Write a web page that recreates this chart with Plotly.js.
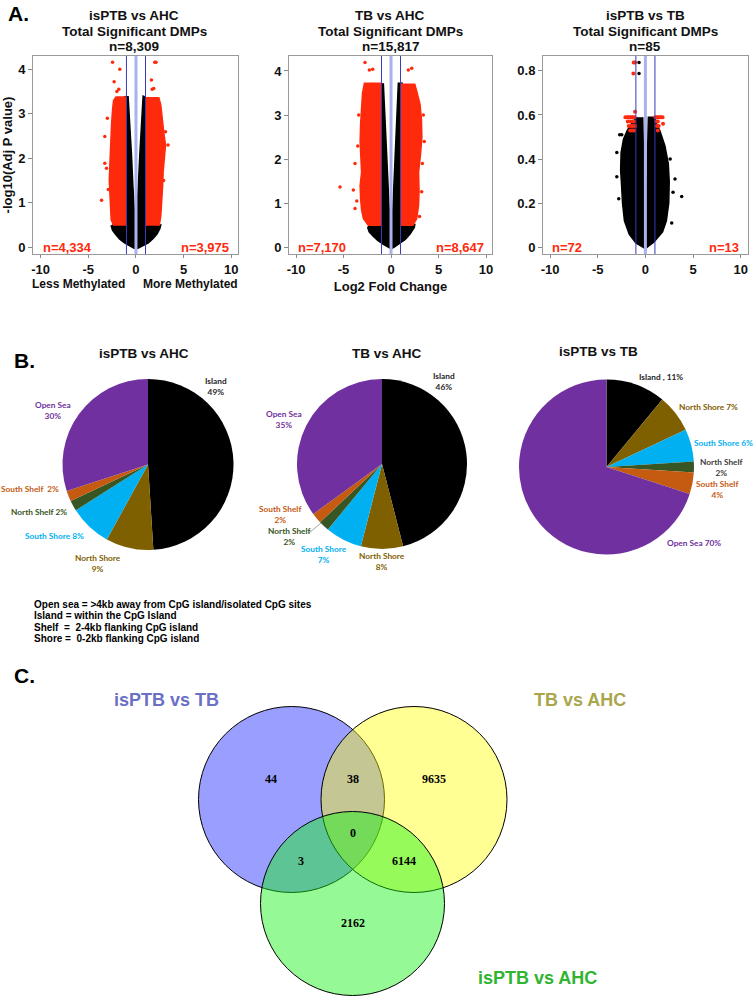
<!DOCTYPE html>
<html><head><meta charset="utf-8">
<script src="https://cdn.plot.ly/plotly-3.0.1.min.js"></script>
<style>html,body{margin:0;padding:0;background:#fff}#chart{width:755px;height:997px}</style>
</head><body><div id="chart"></div><script>
// ---------------- DATA ----------------
// Panel A: volcano plots (envelopes of the dense point clouds + isolated points)
const volcanoTitles = ['isPTB vs AHC', 'TB vs AHC', 'isPTB vs TB'];
const volcanoTotals = ['n=8,309', 'n=15,817', 'n=85'];
const lessCounts = ['n=4,334', 'n=7,170', 'n=72'];
const moreCounts = ['n=3,975', 'n=8,647', 'n=13'];
const xTickVals = [-10, -5, 0, 5, 10];
const xTickText = ['-10', '-5', '0', '5', '10'];
const yTicksLarge = [0, 1, 2, 3, 4];
const yTicksSmall = [0, 0.2, 0.4, 0.6, 0.8];
const fcCutoffs = [-1, 1];
const fcCenter = 0;

const v1BlackX = [-1.2,-1.0,-1.0,-2.3,-2.6,-2.45,-2.1,-1.7,-1.2,-0.7,-0.2,0.2,0.7,1.3,1.8,2.2,2.5,2.6,1.0,1.0,0.95,0.75,0.6,0.4,0.25,0.16,0.08,0.02,-0.03,-0.1,-0.23,-0.33,-0.47,-0.65,-0.83];
const v1BlackY = [3.40,3.30,0.50,0.52,0.48,0.38,0.28,0.18,0.10,0.03,-0.02,-0.02,0.03,0.10,0.20,0.30,0.42,0.50,0.50,3.30,3.38,3.40,2.90,2.07,1.40,0.95,0.55,0.30,0.30,0.55,0.95,1.40,2.07,2.90,3.40];
const v1RedLX = [-1.0,-2.35,-2.6,-2.65,-2.75,-2.8,-2.75,-2.7,-2.65,-2.55,-2.45,-2.35,-2.1,-1.0];
const v1RedLY = [0.50,0.50,0.62,0.90,1.20,1.50,1.80,2.10,2.50,2.80,3.10,3.30,3.38,3.38];
const v1RedRX = [1.0,2.45,2.6,2.7,2.8,2.85,3.0,3.1,2.9,2.75,2.6,2.4,1.0];
const v1RedRY = [0.50,0.50,0.70,1.00,1.40,1.70,2.00,2.30,2.60,2.90,3.20,3.36,3.36];
const v1RedOutX = [-3.61,-3.27,-3.09,-3.27,-2.46,-1.70,-2.29,-2.00,-1.80,-3.00,-2.90,1.97,2.10,1.62,3.36,2.31,1.86,1.70,3.10,2.90,2.50];
const v1RedOutY = [1.06,1.89,1.78,2.49,4.16,4.00,3.72,3.50,3.55,2.90,1.30,4.16,4.16,3.76,2.30,1.02,3.57,3.55,2.60,1.50,0.85];

const v2BlackX = [-1.25,-1.0,-1.0,-2.2,-2.45,-2.3,-1.9,-1.4,-0.8,-0.3,0.0,0.3,0.9,1.5,2.0,2.45,2.5,1.0,1.0,1.15,0.77,0.6,0.45,0.35,0.18,0.05,-0.05,-0.18,-0.39,-0.5,-0.63,-0.81];
const v2BlackY = [3.72,3.65,0.50,0.52,0.45,0.35,0.26,0.16,0.07,0.0,-0.03,0.0,0.08,0.18,0.30,0.45,0.52,0.50,3.65,3.72,3.72,2.85,2.10,1.71,0.81,0.50,0.50,0.81,1.71,2.10,2.85,3.72];
const v2RedLX = [-1.0,-2.4,-2.9,-3.1,-3.2,-3.25,-3.1,-3.15,-3.25,-3.2,-3.05,-3.0,-2.8,-1.0];
const v2RedLY = [0.50,0.50,0.65,0.85,1.10,1.40,1.70,2.00,2.40,2.80,3.20,3.50,3.72,3.72];
const v2RedRX = [1.0,2.3,2.7,2.9,2.95,2.9,3.1,3.25,3.2,3.05,2.7,2.5,1.0];
const v2RedRY = [0.50,0.50,0.65,0.95,1.30,1.70,2.10,2.50,2.90,3.25,3.55,3.70,3.70];
const v2RedOutX = [-5.37,-3.79,-3.97,-2.74,-2.28,-1.93,-3.79,-3.60,-3.50,-3.40,2.18,1.82,3.23,3.40,3.50,3.30,3.00];
const v2RedOutY = [1.37,1.90,1.30,4.19,4.02,4.04,0.88,1.05,2.30,3.00,4.06,4.02,1.26,3.00,2.40,1.90,0.70];

const v3BlackX = [-0.9,-1.3,-1.9,-2.3,-2.55,-2.6,-2.5,-2.4,-2.2,-1.7,-1.0,0.0,0.9,1.8,2.2,2.45,2.5,2.4,2.05,1.5,1.05,1.0,0.31,0.24,0.14,0.04,-0.04,-0.11,-0.21,-0.28];
const v3BlackY = [0.59,0.57,0.53,0.49,0.43,0.35,0.28,0.20,0.12,0.06,0.02,-0.005,0.025,0.07,0.12,0.20,0.30,0.38,0.46,0.53,0.57,0.59,0.59,0.42,0.19,0.07,0.07,0.19,0.42,0.59];
const v3BlackOutX = [3.81,3.11,2.76,2.90,2.60,-3.00,-2.48,-3.00,-2.70,-2.80,-0.67,-0.67];
const v3BlackOutY = [0.23,0.31,0.11,0.25,0.40,0.43,0.51,0.32,0.51,0.22,0.838,0.788];
const v3RedX = [-1.09,-1.23,-1.26,-1.09,-2.10,-1.90,-1.75,-1.60,-1.45,-1.30,-1.15,-1.85,-1.60,-1.35,-1.20,-1.75,-1.50,-1.30,-1.10,-1.60,-1.40,-1.20,1.05,1.20,1.35,1.50,1.65,1.80,1.15,1.30,1.20,1.40,1.85,1.30];
const v3RedY = [0.838,0.838,0.788,0.614,0.589,0.589,0.589,0.589,0.589,0.589,0.589,0.570,0.570,0.570,0.570,0.550,0.550,0.550,0.550,0.530,0.530,0.530,0.589,0.589,0.589,0.589,0.589,0.589,0.570,0.570,0.550,0.550,0.560,0.530];

// Panel B: CpG region pies (percent)
const pieTitles = ['isPTB vs AHC', 'TB vs AHC', 'isPTB vs TB'];
const regions = ['Island', 'North Shore', 'South Shore', 'North Shelf', 'South Shelf', 'Open Sea'];
const pie1Pct = [49, 9, 8, 2, 2, 30];
const pie2Pct = [46, 8, 7, 2, 2, 35];
const pie3Pct = [11, 7, 6, 2, 4, 70];
const cpgNotes = ['Open sea = >4kb away from CpG island/isolated CpG sites',
                  'Island = within the CpG Island',
                  'Shelf \u00a0= \u00a02-4kb flanking CpG island',
                  'Shore = \u00a00-2kb flanking CpG island'];

// Panel C: Venn counts
const vennSets = ['isPTB vs TB', 'TB vs AHC', 'isPTB vs AHC'];
const vennRegions = ['isPTB vs TB only', 'TB vs AHC only', 'isPTB vs AHC only', 'isPTB vs TB & TB vs AHC', 'isPTB vs TB & isPTB vs AHC', 'TB vs AHC & isPTB vs AHC', 'all three'];
const vennCounts = [44, 9635, 2162, 38, 3, 6144, 0];

// ---------------- STYLE / LAYOUT ----------------
const W = 755, H = 997;
const PX = x => x / W;
const PY = y => 1 - y / H;
const SANS = 'Liberation Sans, Arial, sans-serif';
const RED = '#ff2a0c';
const BLACK = '#000000';

const traces = [];
const shapes = [];
const annotations = [];

function ann(text, x, y, size, color, extra) {
  return Object.assign({
    text: text, x: PX(x), y: PY(y), xref: 'paper', yref: 'paper',
    xanchor: 'center', yanchor: 'middle', showarrow: false,
    font: {family: SANS, size: size, color: color, weight: 'bold'}
  }, extra || {});
}

// ----- Panel A -----
const volDomX = [[33, 238], [289, 492], [543, 748]];
const volCenterX = [134, 390, 645];
const volXRange = [[-10.8, 10.7], [-10.74, 10.63], [-10.75, 10.77]];
const volYRange = [[-0.15, 4.3], [-0.15, 4.34], [-0.03, 0.867]];
const volYTicks = [yTicksLarge, yTicksLarge, yTicksSmall];
const volData = [
  {bx: v1BlackX, by: v1BlackY, polys: [[v1RedLX, v1RedLY], [v1RedRX, v1RedRY]], box: [], boy: [], rox: v1RedOutX, roy: v1RedOutY},
  {bx: v2BlackX, by: v2BlackY, polys: [[v2RedLX, v2RedLY], [v2RedRX, v2RedRY]], box: [], boy: [], rox: v2RedOutX, roy: v2RedOutY},
  {bx: v3BlackX, by: v3BlackY, polys: [], box: v3BlackOutX, boy: v3BlackOutY, rox: v3RedX, roy: v3RedY}
];
const layout = {
  width: W, height: H, margin: {l: 0, r: 0, t: 0, b: 0},
  paper_bgcolor: '#fff', plot_bgcolor: '#fff', showlegend: false,
  font: {family: SANS}
};

volData.forEach((d, i) => {
  const n = i === 0 ? '' : String(i + 1);
  const xa = 'x' + n, ya = 'y' + n;
  traces.push({type: 'scatter', mode: 'lines', x: d.bx, y: d.by, fill: 'toself', fillcolor: BLACK,
    line: {color: BLACK, width: 1.5}, hoverinfo: 'skip', xaxis: xa, yaxis: ya});
  d.polys.forEach(p => traces.push({type: 'scatter', mode: 'lines', x: p[0], y: p[1], fill: 'toself', fillcolor: RED,
    line: {color: RED, width: 1.5}, hoverinfo: 'skip', xaxis: xa, yaxis: ya}));
  if (d.box.length) traces.push({type: 'scatter', mode: 'markers', x: d.box, y: d.boy,
    marker: {color: BLACK, size: 3.5}, hoverinfo: 'skip', xaxis: xa, yaxis: ya});
  traces.push({type: 'scatter', mode: 'markers', x: d.rox, y: d.roy,
    marker: {color: RED, size: i === 2 ? 4 : 3.5}, hoverinfo: 'skip', xaxis: xa, yaxis: ya});

  const tickFont = {family: SANS, size: 13, color: '#111', weight: 'bold'};
  layout['xaxis' + n] = {
    domain: [PX(volDomX[i][0]), PX(volDomX[i][1])], range: volXRange[i], anchor: ya,
    tickmode: 'array', tickvals: xTickVals, ticktext: xTickText, ticks: 'outside', ticklen: 3, tickcolor: '#888',
    showline: true, mirror: true, linecolor: '#9a9a9a', linewidth: 1, showgrid: false, zeroline: false,
    tickfont: tickFont
  };
  layout['yaxis' + n] = {
    domain: [PY(254), PY(56)], range: volYRange[i], anchor: xa,
    tickmode: 'array', tickvals: volYTicks[i], ticks: 'outside', ticklen: 4, tickcolor: '#888',
    showline: true, mirror: true, linecolor: '#9a9a9a', linewidth: 1, showgrid: false, zeroline: false,
    tickfont: tickFont
  };
  // cutoff lines
  shapes.push({type: 'line', xref: xa, yref: ya + ' domain', x0: fcCenter, x1: fcCenter, y0: 0, y1: 1,
    line: {color: '#aab2ee', width: 3}, layer: 'above'});
  fcCutoffs.forEach(c => shapes.push({type: 'line', xref: xa, yref: ya + ' domain', x0: c, x1: c, y0: 0, y1: 1,
    line: {color: '#3a3ab8', width: 1}, layer: 'above'}));
  // titles
  annotations.push(ann(volcanoTitles[i], volCenterX[i], 15, 13.5, '#111'));
  annotations.push(ann('Total Significant DMPs', volCenterX[i], 31, 13.5, '#111'));
  annotations.push(ann(volcanoTotals[i], volCenterX[i], 47, 13.5, '#111'));
  // counts
  annotations.push({text: lessCounts[i], x: xTickVals[0], y: 0, xref: xa, yref: ya, xanchor: 'left', yanchor: 'middle',
    showarrow: false, font: {family: SANS, size: 13, color: RED, weight: 'bold'}});
  annotations.push({text: moreCounts[i], x: xTickVals[4], y: 0, xref: xa, yref: ya, xanchor: 'right', yanchor: 'middle',
    showarrow: false, font: {family: SANS, size: 13, color: RED, weight: 'bold'}});
});
layout.yaxis.title = {text: '-log10(Adj P value)', font: {family: SANS, size: 13, color: '#111', weight: 'bold'}, standoff: 7};
layout.xaxis2.title = {text: 'Log2 Fold Change', font: {family: SANS, size: 13, color: '#111', weight: 'bold'}, standoff: 6};
annotations.push(ann('Less Methylated', 78, 283.5, 12, '#111'));
annotations.push(ann('More Methylated', 190, 283.5, 12, '#111'));
annotations.push(ann('A.', 18, 13, 21, '#000'));

// ----- Panel B -----
const regionColors = ['#000000', '#7f6000', '#00b0f0', '#375623', '#c55a11', '#7030a0'];
const pieValues = [pie1Pct, pie2Pct, pie3Pct];
const pieCenters = [[148, 464.5, 85.5], [382, 464, 85], [606.5, 467, 87.5]];
const pieTitlePos = [[144, 353], [387, 353], [598, 352]];
const pieLabelSep = [
  ['<br>', '<br>', ' ', ' ', ' \u00a0', '<br>'],
  ['<br>', '<br>', '<br>', '<br>', '<br>', '<br>'],
  [' , ', ' ', ' ', '<br>', '<br>', ' ']
];
const pieLabelPos = [
  [[216, 386], [98, 563], [54, 536], [39, 512], [30, 489], [53, 410]],
  [[444, 382], [382, 561], [324, 554], [289, 536], [280, 514], [284, 419]],
  [[661, 377], [708, 407], [723, 443], [721, 467], [717, 490], [694, 543]]
];
const pieLabelColors = [
  ['#262626', '#7f6000', '#00b0f0', '#375623', '#c55a11', '#7030a0'],
  ['#262626', '#7f6000', '#00b0f0', '#375623', '#c55a11', '#7030a0'],
  ['#262626', '#7f6000', '#00b0f0', '#404040', '#c55a11', '#7030a0']
];
pieValues.forEach((vals, i) => {
  const c = pieCenters[i];
  traces.push({type: 'pie', labels: regions, values: vals, sort: false, direction: 'clockwise', rotation: 0,
    marker: {colors: regionColors, line: {width: 0}}, textinfo: 'none', hoverinfo: 'label+percent',
    domain: {x: [PX(c[0] - c[2]), PX(c[0] + c[2])], y: [PY(c[1] + c[2]), PY(c[1] - c[2])]}});
  annotations.push(ann(pieTitles[i], pieTitlePos[i][0], pieTitlePos[i][1], 13.5, '#111'));
  regions.forEach((r, k) => {
    annotations.push({text: r + pieLabelSep[i][k] + vals[k] + '%', x: PX(pieLabelPos[i][k][0]), y: PY(pieLabelPos[i][k][1]),
      xref: 'paper', yref: 'paper', xanchor: 'center', yanchor: 'middle', showarrow: false,
      font: {family: 'Lato, Open Sans, sans-serif', size: 8.3, color: pieLabelColors[i][k], weight: 'bold'}});
  });
});
shapes.push({type: 'line', xref: 'paper', yref: 'paper', x0: PX(309), y0: PY(533), x1: PX(321), y1: PY(523),
  line: {color: '#a6a6a6', width: 1}});
annotations.push(ann('B.', 24, 360, 21, '#000'));
const notePosY = [604, 615.5, 627, 638.5];
cpgNotes.forEach((t, k) => annotations.push(ann(t, 32, notePosY[k], 10, '#000', {xanchor: 'left'})));

// ----- Panel C -----
annotations.push(ann('C.', 24, 675, 21, '#000'));
const vennCircles = [[291.5, 799.5, 93], [414, 799.5, 93], [352.5, 903.5, 92]];
const vennFill = ['rgba(30,40,255,0.45)', 'rgba(255,255,0,0.42)', 'rgba(20,245,20,0.45)'];
vennCircles.forEach((c, k) => shapes.push({type: 'circle', xref: 'paper', yref: 'paper',
  x0: PX(c[0] - c[2]), x1: PX(c[0] + c[2]), y0: PY(c[1] + c[2]), y1: PY(c[1] - c[2]),
  fillcolor: vennFill[k], line: {color: '#000', width: 1}, layer: 'above'}));
const vennTitlePos = [[166, 700], [580, 700], [537, 978]];
const vennTitleColors = ['#6b6fc6', '#a9a64c', '#2fb52f'];
vennSets.forEach((s, k) => annotations.push(ann(s, vennTitlePos[k][0], vennTitlePos[k][1], 18, vennTitleColors[k])));
const vennCountPos = [[271, 779], [434, 779], [353, 923], [353, 779], [301, 861], [404, 861], [353, 833]];
vennCounts.forEach((v, k) => annotations.push(ann(String(v), vennCountPos[k][0], vennCountPos[k][1], 12, '#000',
  {font: {family: 'Liberation Serif, Times New Roman, serif', size: 12, color: '#000', weight: 'bold'}})));

layout.shapes = shapes;
layout.annotations = annotations;
Plotly.newPlot('chart', traces, layout, {displayModeBar: false, staticPlot: true});
</script></body></html>
